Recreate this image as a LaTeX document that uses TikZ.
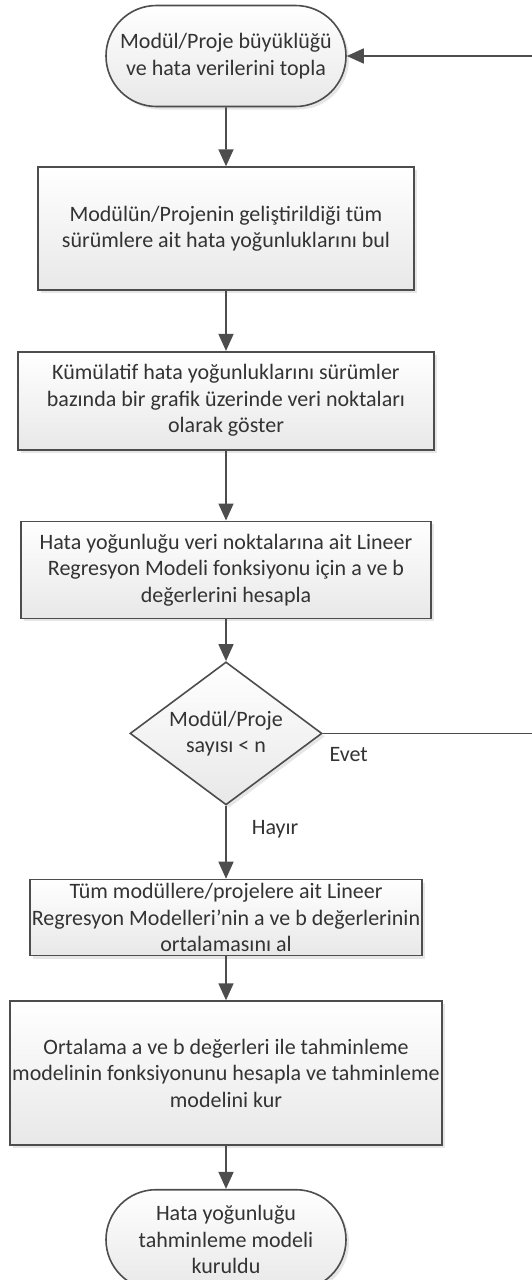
\documentclass[tikz,border=0pt]{standalone}
\usepackage{fontspec}
\setmainfont{Carlito}
\usetikzlibrary{shapes,positioning,arrows.meta,shadows}
\definecolor{edge}{HTML}{4D4D4D}
\tikzset{
	process/.style={
		rectangle,
		draw=edge,
		line width=1.6pt,
		top color=white,
		bottom color=black!9,
		drop shadow={shadow xshift=3pt,shadow yshift=-3pt,opacity=0.2},
		align=center,
		text=black!80,
		inner sep=0pt,
		font=\fontsize{22}{26.5}\selectfont,
	},
	terminal/.style={
		process,
		rounded rectangle,
		minimum width=240pt,
	},
	decision/.style={
		process,
		diamond,
		aspect=1.34,
		minimum width=192pt,
		minimum height=143pt,
	},
	link/.style={
		-{Triangle[length=17pt,width=15pt]},
		line width=1.6pt,
		draw=edge,
	},
	answer/.style={
		inner sep=0pt,
		text=black!80,
		font=\fontsize{22}{26.5}\selectfont,
	}
}

\begin{document}
\begin{tikzpicture}[x=1pt,y=1pt]
\useasboundingbox (0,0) rectangle (532,-1280);

\node[terminal,minimum height=101pt] (collect) at (226,-56) {Modül/Proje büyüklüğü\\ve hata verilerini topla};
\node[process,minimum width=376pt,minimum height=123pt] (density) [below=59pt of collect] {Modülün/Projenin geliştirildiği tüm\\sürümlere ait hata yoğunluklarını bul};
\node[process,minimum width=416pt,minimum height=98pt] (plot) [below=60pt of density] {Kümülatif hata yoğunluklarını sürümler\\bazında bir grafik üzerinde veri noktaları\\olarak göster};
\node[process,minimum width=410pt,minimum height=97pt] (regr) [below=70pt of plot] {Hata yoğunluğu veri noktalarına ait Lineer\\Regresyon Modeli fonksiyonu için a ve b\\değerlerini hesapla};
\node[decision] (count) [below=42pt of regr] {Modül/Proje\\sayısı < n};
\node[process,minimum width=392pt,minimum height=76pt] (avg) [below=73pt of count] {Tüm modüllere/projelere ait Lineer\\Regresyon Modelleri’nin a ve b değerlerinin\\ortalamasını al};
\node[process,minimum width=432pt,minimum height=144pt] (model) [below=44pt of avg] {Ortalama a ve b değerleri ile tahminleme\\modelinin fonksiyonunu hesapla ve tahminleme\\modelini kur};
\node[terminal,minimum height=100pt] (done) [below=43pt of model] {Hata yoğunluğu\\tahminleme modeli\\kuruldu};

\draw[link] (collect) -- (density);
\draw[link] (density) -- (plot);
\draw[link] (plot) -- (regr);
\draw[link] (regr) -- (count);

\draw[link] 
  (count) 
  -- 
  node[answer,pos=0.4,anchor=base west,xshift=25pt]{Hayır} 
  (avg);

\draw[link] 
  (count.east) 
  node[answer,anchor=base west,xshift=6pt,yshift=-28pt]{Evet} 
  -- 
  ++(213,0) 
  |- 
  (collect.east);

\draw[link] (avg) -- (model);
\draw[link] (model) -- (done);

\end{tikzpicture}
\end{document}
